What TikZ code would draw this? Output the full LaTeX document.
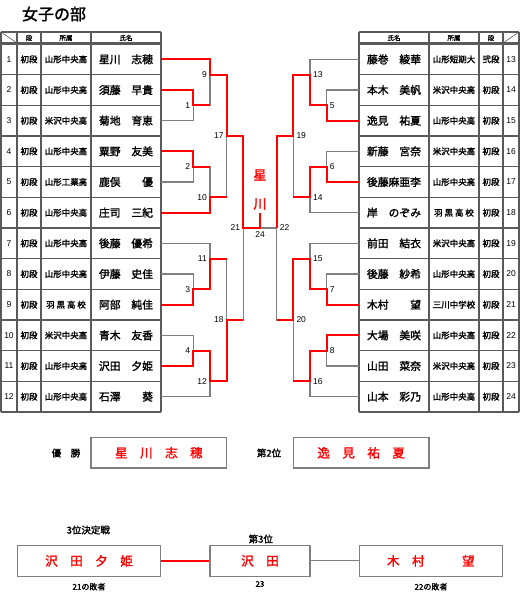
\documentclass[tikz,border=0pt]{standalone}
\usepackage{fontspec}
\setmainfont{Noto Sans CJK JP}
\newfontfamily\jb[FakeBold=1.7]{Noto Sans CJK JP}
\newfontfamily\ar{Liberation Sans}
\definecolor{brgray}{HTML}{808080}
\definecolor{tabc}{HTML}{5A5A5A}
\definecolor{bred}{HTML}{FF0000}
\begin{document}
\begin{tikzpicture}[x=1pt,y=-1pt,
  tl/.style={draw=tabc,line width=1.3pt},
  gl/.style={draw=brgray,line width=1.2pt},
  rl/.style={draw=bred,line width=1.9pt},
  lab/.style={font=\ar\fontsize{8.5}{9}\selectfont,inner sep=0pt},
  numtxt/.style={font=\ar\fontsize{8.5}{9}\selectfont,inner sep=0pt},
  smalltxt/.style={font=\jb\fontsize{8.5}{9}\selectfont,inner sep=0pt},
  nametxt/.style={font=\jb\fontsize{10.8}{11}\selectfont,inner sep=0pt},
  headtxt/.style={font=\jb\fontsize{6.5}{7}\selectfont,inner sep=0pt},
  resbox/.style={draw=brgray,line width=1.2pt,inner sep=0pt,minimum height=30.5pt,font=\jb\fontsize{12.5}{13}\selectfont,text=bred},
  captxt/.style={font=\jb\fontsize{9.5}{10}\selectfont,inner sep=0pt},
  subtxt/.style={font=\jb\fontsize{8}{9}\selectfont,inner sep=0pt}
]
\useasboundingbox (0,0) rectangle (520,600);
% title
\node[font=\jb\fontsize{16}{17}\selectfont,inner sep=0pt] (title) at (54,14) {女子の部};

% ---- tables ----
\foreach \xa/\xb in {1/161,359/519}{
  \draw[tl] (\xa,32) -- (\xb,32);
  \draw[tabc,line width=2.2pt] (\xa,43.5) -- (\xb,43.5);
  \foreach \k in {1,...,11}{ \draw[tl] (\xa,{44+30.667*\k}) -- (\xb,{44+30.667*\k}); }
  \draw[tl] (\xa,412) -- (\xb,412);
}
\foreach \xx in {1,17,41,91,161,359,429,479,503,519}{ \draw[tl] (\xx,32) -- (\xx,412); }
\draw[tabc,line width=0.6pt] (1,32) -- (17,43);
\draw[tabc,line width=0.6pt] (503,43) -- (519,32);
\node[headtxt] (h1) at (29,38) {段};
\node[headtxt] (h2) at (66,38) {所属};
\node[headtxt] (h3) at (126,38) {氏名};
\node[headtxt] (h4) at (394,38) {氏名};
\node[headtxt] (h5) at (454,38) {所属};
\node[headtxt] (h6) at (491,38) {段};

\foreach \n/\d/\s/\nm [count=\r] in {1/初段/山形中央高/星川　志穂, 2/初段/山形中央高/須藤　早貴, 3/初段/米沢中央高/菊地　育恵, 4/初段/山形中央高/粟野　友美, 5/初段/山形工業高/鹿俣　　優, 6/初段/山形中央高/庄司　三紀, 7/初段/山形中央高/後藤　優希, 8/初段/山形中央高/伊藤　史佳, 9/初段/羽 黒 高 校/阿部　純佳, 10/初段/米沢中央高/青木　友香, 11/初段/山形中央高/沢田　夕姫, 12/初段/山形中央高/石澤　　葵}{
  \pgfmathsetmacro\yy{44+30.667*(\r-0.5)}
  \node[numtxt] (ln\n) at (9,\yy) {\n};
  \node[smalltxt] (ld\n) at (29,\yy) {\d};
  \node[smalltxt] (ls\n) at (66,\yy) {\s};
  \node[nametxt] (lm\n) at (126,\yy) {\nm};
  \coordinate (L\r) at (161,\yy);
}
\foreach \n/\d/\s/\nm [count=\r] in {13/弐段/山形短期大/藤巻　綾華, 14/初段/米沢中央高/本木　美帆, 15/初段/山形中央高/逸見　祐夏, 16/初段/米沢中央高/新藤　宮奈, 17/初段/山形中央高/後藤麻亜李, 18/初段/羽 黒 高 校/岸　のぞみ, 19/初段/米沢中央高/前田　結衣, 20/初段/山形中央高/後藤　紗希, 21/初段/三川中学校/木村　　望, 22/初段/山形中央高/大場　美咲, 23/初段/米沢中央高/山田　菜奈, 24/初段/山形中央高/山本　彩乃}{
  \pgfmathsetmacro\yy{44+30.667*(\r-0.5)}
  \node[numtxt] (rn\n) at (511,\yy) {\n};
  \node[smalltxt] (rd\n) at (491,\yy) {\d};
  \node[smalltxt] (rs\n) at (454,\yy) {\s};
  \node[nametxt] (rm\n) at (394,\yy) {\nm};
  \coordinate (R\r) at (359,\yy);
}

% ---- match points ----
\coordinate (m1) at (193.3,105.33);
\coordinate (m9) at (210,74.67);
\coordinate (m2) at (193.3,166.67);
\coordinate (m10) at (210,197.33);
\coordinate (m17) at (226.7,136);
\coordinate (m3) at (193.3,289.33);
\coordinate (m11) at (210,258.67);
\coordinate (m4) at (193.3,350.67);
\coordinate (m12) at (210,381.33);
\coordinate (m18) at (226.7,320);
\coordinate (m21) at (243.3,228);
\coordinate (m5) at (326.7,105.33);
\coordinate (m13) at (310,74.67);
\coordinate (m6) at (326.7,166.67);
\coordinate (m14) at (310,197.33);
\coordinate (m19) at (293.3,136);
\coordinate (m7) at (326.7,289.33);
\coordinate (m15) at (310,258.67);
\coordinate (m8) at (326.7,350.67);
\coordinate (m16) at (310,381.33);
\coordinate (m20) at (293.3,320);
\coordinate (m22) at (276.7,228);
\coordinate (m24) at (260,228);
\coordinate (tick) at (260,212.7);

% ---- gray bracket ----
\draw[gl] (L2) -| (m1) |- (L3);
\draw[gl] (L1) -| (m9) |- (m1);
\draw[gl] (L4) -| (m2) |- (L5);
\draw[gl] (m2) -| (m10) |- (L6);
\draw[gl] (m9) -| (m17) |- (m10);
\draw[gl] (L8) -| (m3) |- (L9);
\draw[gl] (L7) -| (m11) |- (m3);
\draw[gl] (L10) -| (m4) |- (L11);
\draw[gl] (m4) -| (m12) |- (L12);
\draw[gl] (m11) -| (m18) |- (m12);
\draw[gl] (m17) -| (m21) |- (m18);
\draw[gl] (m21) -- (m22);
\draw[gl] (R2) -| (m5) |- (R3);
\draw[gl] (R1) -| (m13) |- (m5);
\draw[gl] (R4) -| (m6) |- (R5);
\draw[gl] (m6) -| (m14) |- (R6);
\draw[gl] (m13) -| (m19) |- (m14);
\draw[gl] (R8) -| (m7) |- (R9);
\draw[gl] (R7) -| (m15) |- (m7);
\draw[gl] (R10) -| (m8) |- (R11);
\draw[gl] (m8) -| (m16) |- (R12);
\draw[gl] (m15) -| (m20) |- (m16);
\draw[gl] (m19) -| (m22) |- (m20);

% ---- red winner paths ----
\draw[rl] (L1) -| (m9) -| (m17) -| (m21) -- (m24) -- (tick);
\draw[rl] (L2) -| (m1) -- (m1 -| m9);
\draw[rl] (L4) -| (m2) -- (m2 -| m10);
\draw[rl] (L6) -| (m10) -- (m10 -| m17);
\draw[rl] (L9) -| (m3) -| (m11) -- (m11 -| m18);
\draw[rl] (L11) -| (m4) -| (m12) -| (m18) -- (m18 -| m21);
\draw[rl] (R3) -| (m5) -| (m13) -| (m19) -| (m22);
\draw[rl] (R5) -| (m6) -| (m14) -- (m14 -| m19);
\draw[rl] (R9) -| (m7) -| (m15) -| (m20) -- (m20 -| m22);
\draw[rl] (R10) -| (m8) -| (m16) -- (m16 -| m20);

% ---- match labels ----
\foreach \m in {1,9,2,10,17,3,11,4,12,18,21}{
  \node[lab,anchor=east] (t\m) at ([xshift=-3pt]m\m) {\m};
}
\foreach \m in {5,13,6,14,19,7,15,8,16,20,22}{
  \node[lab,anchor=west] (t\m) at ([xshift=3pt]m\m) {\m};
}
\node[lab,anchor=north] (t24) at ([yshift=-3.5pt]m24) {24};
\node[font=\jb\fontsize{13}{14}\selectfont,text=bred,inner sep=0pt] (w1) at (260,175) {星};
\node[font=\jb\fontsize{13}{14}\selectfont,text=bred,inner sep=0pt] (w2) at (260,204) {川};

% ---- results ----
\node[captxt] (yu) at (66,453) {優　勝};
\node[resbox,minimum width=135.7pt] (b1) at (158.85,452.8) {星　川　志　穂};
\node[captxt] (d2) at (269,453) {第2位};
\node[resbox,minimum width=135.7pt] (b2) at (361.15,452.8) {逸　見　祐　夏};
\node[captxt] (k3) at (88.3,530) {3位決定戦};
\node[captxt] (d3) at (260.8,539) {第3位};
\node[resbox,minimum width=143.4pt] (b3) at (89,560.85) {沢　田　夕　姫};
\node[resbox,minimum width=100pt] (b4) at (260,560.85) {沢　田};
\node[resbox,minimum width=143pt] (b5) at (430.8,560.85) {木　村　　　望};
\draw[rl] (b3.east) -- (b4.west);
\draw[gl] (b4.east) -- (b5.west);
\node[subtxt] (s1) at (89,586.7) {21の敗者};
\node[subtxt] (s2) at (260,584) {23};
\node[subtxt] (s3) at (431,586.7) {22の敗者};
\end{tikzpicture}
\end{document}
